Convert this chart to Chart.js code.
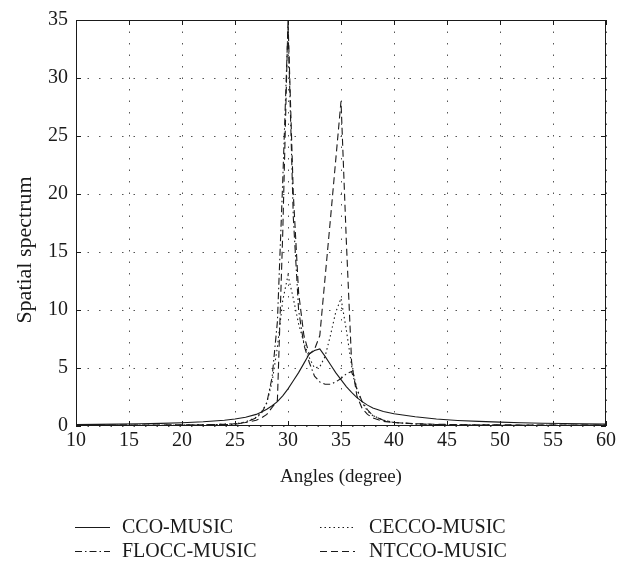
<!DOCTYPE html>
<html><head><meta charset="utf-8">
<script src="https://cdn.jsdelivr.net/npm/chart.js@4"></script>
<style>html,body{margin:0;padding:0;background:#fff;}</style>
</head><body>
<canvas id="c" width="632" height="565"></canvas>
<script>
const angles = [10,12,14,16,18,20,22,24,25,26,27,27.5,28,28.5,29,29.5,30,30.5,31,31.5,32,32.5,33,33.5,34,34.5,35,35.5,36,36.5,37,37.5,38,39,40,42,44,46,48,50,52,54,56,58,60];
const ccoMusic   = [0.12,0.14,0.16,0.19,0.23,0.28,0.36,0.5,0.6,0.75,1.0,1.2,1.45,1.75,2.1,2.6,3.2,3.9,4.6,5.4,6.2,6.5,6.65,6.0,5.3,4.6,4.0,3.4,2.9,2.45,2.1,1.8,1.55,1.25,1.05,0.8,0.6,0.48,0.4,0.33,0.28,0.24,0.21,0.18,0.16];
const ceccoMusic = [0.05,0.05,0.05,0.06,0.07,0.08,0.1,0.15,0.2,0.35,0.75,1.2,2.0,3.8,6.8,10.8,13.0,11.0,8.8,7.2,5.9,5.0,5.1,6.0,7.8,9.8,11.0,8.3,5.2,3.2,2.0,1.3,0.9,0.5,0.3,0.18,0.12,0.1,0.08,0.07,0.06,0.06,0.05,0.05,0.05];
const floccMusic = [0.04,0.04,0.05,0.05,0.06,0.07,0.09,0.12,0.15,0.3,0.7,1.1,2.0,4.2,9.0,21,34.5,18,10,7.0,5.5,4.3,3.8,3.6,3.6,3.8,4.1,4.5,4.7,3.2,2.1,1.4,0.9,0.5,0.3,0.18,0.12,0.1,0.08,0.07,0.06,0.06,0.05,0.05,0.05];
const ntccoMusic = [0.08,0.08,0.08,0.08,0.09,0.1,0.11,0.15,0.2,0.3,0.5,0.7,1.0,1.6,2.2,16.5,35,20,11.5,7.8,6.2,6.6,7.8,12.8,17.8,22.9,28,16,5.5,2.6,1.5,1.0,0.7,0.4,0.3,0.2,0.15,0.12,0.1,0.1,0.09,0.09,0.08,0.08,0.08];
const seriesNames = ['CCO-MUSIC','CECCO-MUSIC','FLOCC-MUSIC','NTCCO-MUSIC'];
const xTicks = [10,15,20,25,30,35,40,45,50,55,60];
const yTicks = [0,5,10,15,20,25,30,35];
const xTitle = 'Angles (degree)';
const yTitle = 'Spatial spectrum';

const FONT = "'Liberation Serif', 'DejaVu Serif', serif";
const INK = '#1a1a1a';
const dashes = [[], [1.5,3], [7,3,1.5,3], [7,4]];
const seriesValues = [ccoMusic, ceccoMusic, floccMusic, ntccoMusic];

const datasets = seriesNames.map((name,i)=>({
  label: name,
  data: angles.map((a,k)=>({x:a, y:seriesValues[i][k]})),
  borderColor: INK, borderWidth: 1.1, borderDash: dashes[i],
  pointRadius: 0, tension: 0, fill: false
}));

const boxPlugin = {
  id:'boxTicks',
  afterDatasetsDraw(chart){
    const {ctx, chartArea:a, scales:{x,y}} = chart;
    ctx.save();
    ctx.strokeStyle = INK; ctx.lineWidth = 1; ctx.setLineDash([]);
    ctx.strokeRect(Math.round(a.left)+0.5, Math.round(a.top)+0.5, Math.round(a.right-a.left)-1, Math.round(a.bottom-a.top)-1);
    const L = 5;
    ctx.beginPath();
    xTicks.forEach(v=>{
      const px = Math.round(x.getPixelForValue(v))+0.5;
      ctx.moveTo(px, a.bottom); ctx.lineTo(px, a.bottom-L);
      ctx.moveTo(px, a.top); ctx.lineTo(px, a.top+L);
    });
    yTicks.forEach(v=>{
      const py = Math.round(y.getPixelForValue(v))+0.5;
      ctx.moveTo(a.left, py); ctx.lineTo(a.left+L, py);
      ctx.moveTo(a.right, py); ctx.lineTo(a.right-L, py);
    });
    ctx.stroke();
    ctx.restore();
  },
  afterDraw(chart){
    const ctx = chart.ctx;
    ctx.save();
    // y-axis title
    ctx.font = "22px " + FONT;
    ctx.fillStyle = INK; ctx.textAlign = 'center'; ctx.textBaseline = 'middle';
    ctx.translate(25, 250); ctx.rotate(-Math.PI/2);
    ctx.fillText(yTitle, 0, 0);
    ctx.restore();
    // legend
    const cols = [[75,122],[320,369]];
    const rows = [527,551];
    ctx.save();
    ctx.font = "20px " + FONT;
    ctx.fillStyle = INK; ctx.textBaseline = 'middle'; ctx.textAlign = 'left';
    chart.data.datasets.forEach((ds,i)=>{
      const c = cols[i%2], r = rows[Math.floor(i/2)];
      ctx.strokeStyle = ds.borderColor; ctx.lineWidth = 1.1;
      ctx.setLineDash(ds.borderDash);
      ctx.beginPath(); ctx.moveTo(c[0], r+0.5); ctx.lineTo(c[0]+35, r+0.5); ctx.stroke();
      ctx.setLineDash([]);
      ctx.fillText(ds.label, c[1], r+1);
    });
    ctx.restore();
  }
};

new Chart(document.getElementById('c'), {
  type:'line',
  data:{datasets},
  plugins:[boxPlugin],
  options:{
    responsive:false, animation:false, devicePixelRatio:1,
    layout:{padding:{left:0,right:26,top:15,bottom:69}},
    plugins:{legend:{display:false}, tooltip:{enabled:false}},
    scales:{
      x:{type:'linear', min:10, max:60,
        afterBuildTicks(s){ s.ticks = xTicks.map(v=>({value:v})); },
        afterFit(s){ s.height = 70; },
        ticks:{color:INK, font:{family:FONT,size:20}, padding:3, maxRotation:0},
        grid:{color:'#555', lineWidth:1, drawTicks:false},
        border:{display:false, dash:[1.5,10]},
        title:{display:true, text:xTitle, color:INK, font:{family:FONT,size:19}, padding:{top:0,bottom:8}}
      },
      y:{type:'linear', min:0, max:35,
        afterBuildTicks(s){ s.ticks = yTicks.map(v=>({value:v})); },
        afterFit(s){ s.width = 76; },
        ticks:{color:INK, font:{family:FONT,size:20}, padding:8},
        grid:{color:'#555', lineWidth:1, drawTicks:false},
        border:{display:false, dash:[1.5,10]},
        title:{display:false}
      }
    }
  }
});
</script>
</body></html>
